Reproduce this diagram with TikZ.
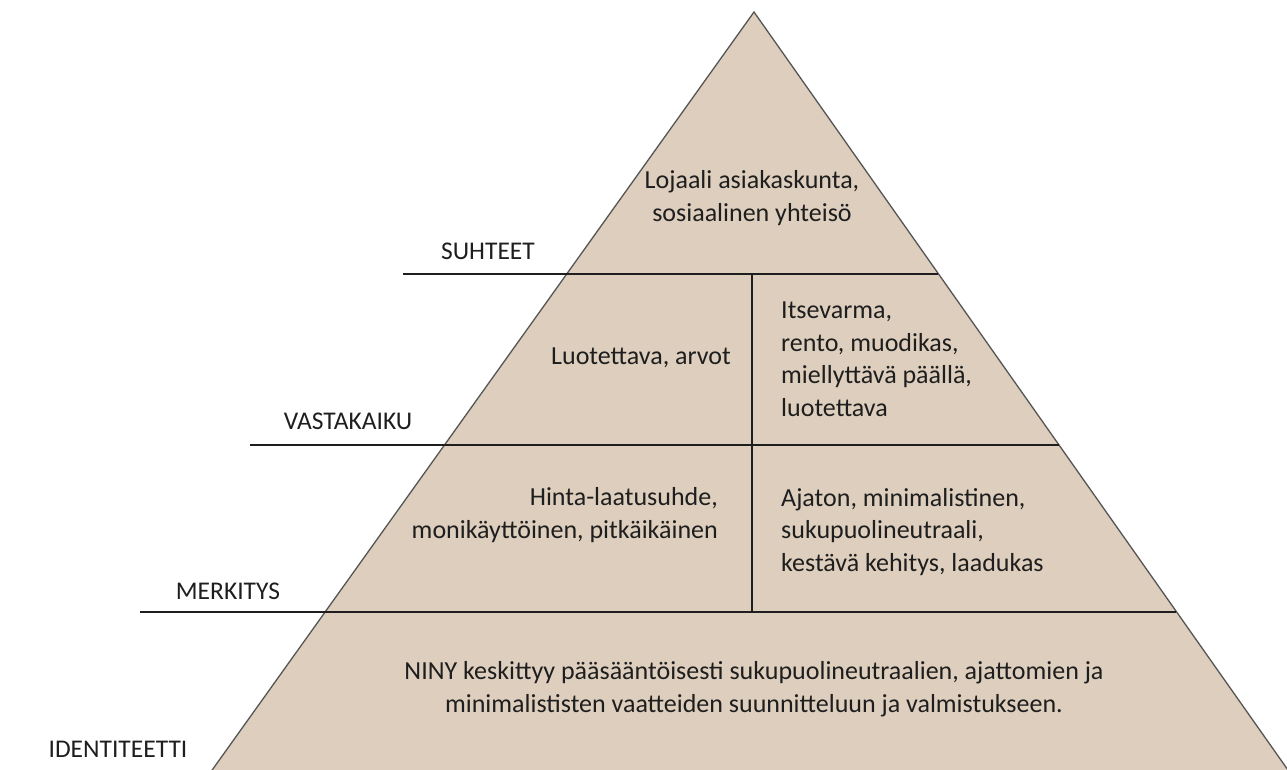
\documentclass[tikz,border=0pt]{standalone}
\usepackage{fontspec}
\setmainfont{Carlito}
\usepackage{xcolor}
\usepackage{tikz}
\usetikzlibrary{calc}
\definecolor{sand}{RGB}{221,206,189}
\definecolor{edgegray}{RGB}{85,85,85}
\definecolor{inkgray}{RGB}{30,30,30}
\tikzset{
	level/.style={font=\fontsize{25.5}{32.5}\selectfont, text=inkgray, inner sep=0pt},
	cell/.style={font=\fontsize{26}{32.5}\selectfont, text=inkgray, inner sep=0pt},
	divider/.style={draw=inkgray, line width=1.1pt}
}
\newcommand{\levelline}[3]{
	(#1, #2) -- (#3, #2);
	}

\begin{document}
\begin{tikzpicture}[x=1pt, y=-1pt]
	\useasboundingbox (0,0) rectangle (1287,769);
	\clip (0,0) rectangle (1287,769);

	% pyramid
	\draw[fill=sand, draw=edgegray, line width=1.3pt] (754,12) -- (205,780) -- (1295,780) -- cycle;

	% level lines
	\draw[divider]\levelline{403}{274}{938}
	\draw[divider]\levelline{250}{445}{1059}
	\draw[divider]\levelline{140}{612}{1176}
	\draw[divider] (752,274) -- (752,612);

	% level names
	\path (488,251) node[level] (suhteet) {SUHTEET}
	(348,421) node[level] (vastakaiku) {VASTAKAIKU}
	(228,591) node[level] (merkitys) {MERKITYS}
	(118,749) node[level] (identiteetti) {IDENTITEETTI};

	% contents
	\node[cell, align=center] (asiakas) at (752,198) {Lojaali asiakaskunta,\\sosiaalinen yhteisö};
	\node[cell] (arvot) at (641,358) {Luotettava, arvot};
	\node[cell, align=left, anchor=west] (itsevarma) at (781,359) {Itsevarma,\\rento, muodikas,\\miellyttävä päällä,\\luotettava};
	\node[cell, align=right, anchor=east] (hinta) at (718,515) {Hinta-laatusuhde,\\monikäyttöinen, pitkäikäinen};
	\node[cell, align=left, anchor=west] (ajaton) at (781,532) {Ajaton, minimalistinen,\\sukupuolineutraali,\\kestävä kehitys, laadukas};
	\node[cell, align=center] (niny) at (754,689) {NINY keskittyy pääsääntöisesti sukupuolineutraalien, ajattomien ja\\minimalististen vaatteiden suunnitteluun ja valmistukseen.};

\end{tikzpicture}
\end{document}
